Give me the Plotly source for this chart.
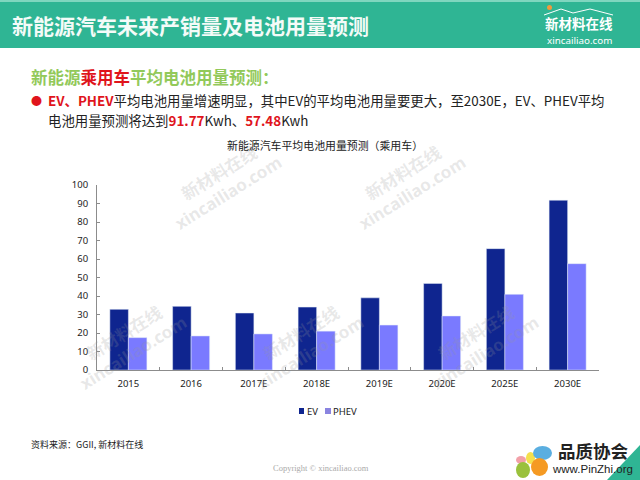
import plotly.graph_objects as go

W, H = 640, 480
CJK = "Noto Sans CJK SC"

categories = ["2015", "2016", "2017E", "2018E", "2019E", "2020E", "2025E", "2030E"]
ev_values = [32.8, 34.4, 30.8, 34.0, 39.0, 46.8, 65.6, 91.77]
phev_values = [17.5, 18.4, 19.5, 21.0, 24.3, 29.2, 40.9, 57.48]
y_ticks = list(range(0, 101, 10))

GREEN = "#2fb594"
LIGHT_GREEN = "#92c95a"
RED = "#e0141c"
EV_COL = "#0f258f"
PHEV_COL = "#7a7aff"


def px(x):
    return x / W


def py(y):
    return 1 - y / H


def label(x, y, text, size, color="#222222", anchor="left", angle=0, family=CJK):
    fig.add_annotation(x=px(x), y=py(y), xref="paper", yref="paper", text=text, showarrow=False,
                       xanchor=anchor, yanchor="middle", textangle=angle, borderpad=0, borderwidth=0,
                       font=dict(size=size, color=color, family=family))


def box(x0, y0, x1, y1, col, kind="rect"):
    fig.add_shape(type=kind, xref="paper", yref="paper", x0=px(x0), x1=px(x1), y0=py(y1), y1=py(y0),
                  fillcolor=col, line_width=0, layer="below")


fig = go.Figure()
fig.add_trace(go.Bar(x=categories, y=ev_values, name="EV", marker_color=EV_COL))
fig.add_trace(go.Bar(x=categories, y=phev_values, name="PHEV", marker_color=PHEV_COL))

fig.update_layout(
    width=W, height=H, margin=dict(l=0, r=0, t=0, b=0, autoexpand=False), paper_bgcolor="white", plot_bgcolor="rgba(0,0,0,0)",
    barmode="group", bargap=0.41, bargroupgap=0, showlegend=False,
    font=dict(family=CJK, size=9, color="#222222"),
    xaxis=dict(domain=[px(97), px(599)], automargin=False, ticks="inside", ticklen=3, tickson="boundaries", ticklabelstandoff=5,
               linecolor="#8c8c8c", tickcolor="#8c8c8c", showline=True, showgrid=False, type="category",
               tickfont=dict(size=9.5, family="Noto Sans")),
    yaxis=dict(domain=[py(370), py(185)], automargin=False, range=[0, 100], tickvals=y_ticks, ticks="inside", ticklen=3,
               ticklabelstandoff=6, linecolor="#8c8c8c", tickcolor="#8c8c8c", showline=True, showgrid=False,
               zeroline=False, tickfont=dict(size=9.5, family="Noto Sans")),
)

# header band and corner
box(0, 0, 640, 48, GREEN)
box(0, 0, 640, 2, "#7fd6bf")
fig.add_shape(type="path", xref="paper", yref="paper",
              path=f"M {px(640)} {py(445)} L {px(640)} {py(480)} L {px(607)} {py(480)} Z",
              fillcolor=GREEN, line_width=0, layer="below")
# roof over the header logo
fig.add_shape(type="path", xref="paper", yref="paper",
              path=f"M {px(544)} {py(15)} L {px(561)} {py(9)} L {px(573)} {py(13)} L {px(590)} {py(9)} L {px(613)} {py(15)}",
              line=dict(color="white", width=1), layer="below")
box(547, 5, 552, 10, "#f09a3c", "circle")

# logo petals
for x0, y0, x1, y1, col in [(516, 456, 526, 464, "#f2a0a8"), (526, 452, 535, 464, "#f4e04d"),
                            (533, 446, 552, 460, "#5aaee0"), (516, 462, 530, 478, "#9ac13c"),
                            (531, 458, 548, 476, "#f59a23")]:
    box(x0, y0, x1, y1, col, "circle")

# watermarks
for x, y in [(218, 172), (402, 172), (123, 332), (300, 332), (475, 332)]:
    label(x, y, "<b>新材料在线</b>", 17, "rgba(150,150,150,0.22)", "center", -32)
    label(x + 10, y + 20, "<b>xincailiao.com</b>", 17, "rgba(150,150,150,0.22)", "center", -32, "Noto Sans")

label(12, 25, "<b>新能源汽车未来产销量及电池用量预测</b>", 21, "#f4fbf8")
label(579, 23, "<b>新材料在线</b>", 13.5, "white", "center")
label(579, 40, "xincailiao.com", 9.8, "white", "center", family="Noto Sans")

label(31, 77, f"<b>新能源<span style='color:{RED}'>乘用车</span>平均电池用量预测：</b>", 16.5, LIGHT_GREEN)
label(31, 100, "●", 11, RED)
label(48, 100, f"<b><span style='color:{RED}'>EV、PHEV</span></b>平均电池用量增速明显，其中EV的平均电池用量要更大，至2030E，EV、PHEV平均",
      13.4, "#222222")
label(48, 120, f"电池用量预测将达到<b><span style='color:{RED}'>91.77</span></b>Kwh、<b><span style='color:{RED}'>57.48</span></b>Kwh",
      13.4, "#222222")
label(325, 145, "新能源汽车平均电池用量预测（乘用车）", 10.9, "#222222", "center")

# legend
box(299, 408, 304, 414, EV_COL)
label(307, 411, "EV", 9.5, family="Noto Sans")
box(325, 408, 331, 414, "#8a84e0")
label(333, 411, "PHEV", 9.5, family="Noto Sans")

label(31, 444, "资料来源：GGII, 新材料在线", 9)
label(321, 468, "Copyright © xincailiao.com", 8.5, "#aaaaaa", "center", family="Liberation Serif")
label(593, 450, "<b>品质协会</b>", 17.5, "#222222", "center")
label(592, 469, "www.PinZhi.org", 11.5, "#222222", "center", family="Liberation Sans")

fig.write_html("out.html", config={"displayModeBar": False}, post_script="document.body.style.margin='0';")
